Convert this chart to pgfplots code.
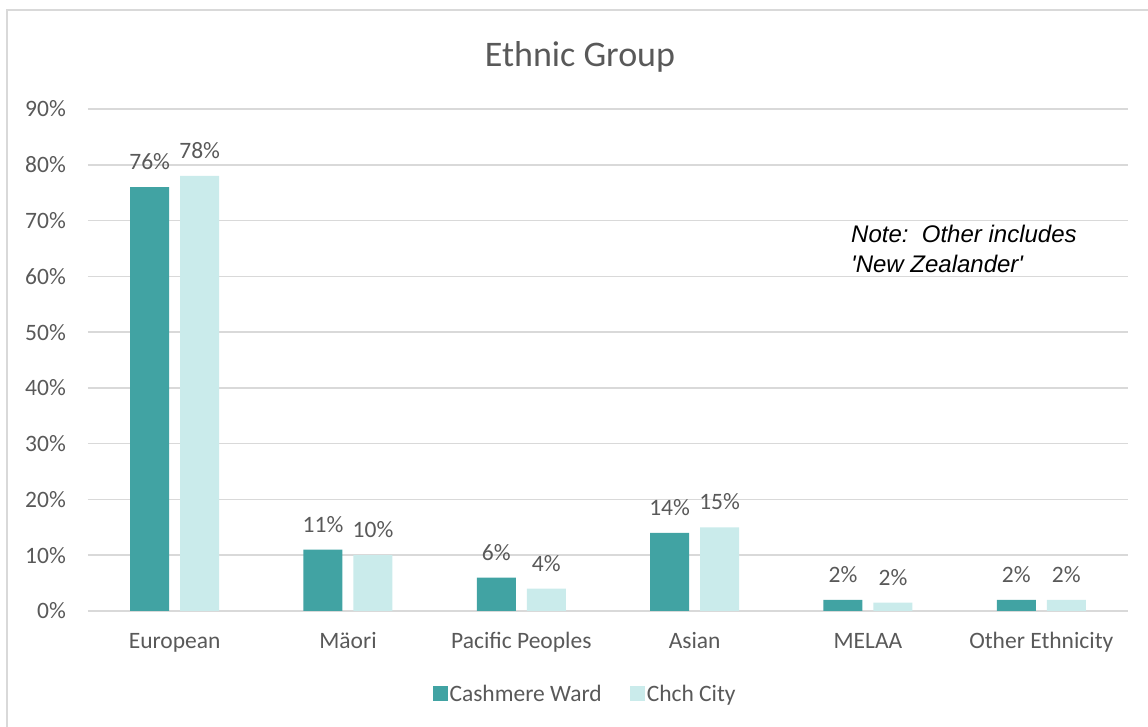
\documentclass[border=0pt]{standalone}
\usepackage{pgfplots}
\pgfplotsset{compat=1.18}
\usepackage{fontspec}
\setmainfont{Carlito}
\newfontfamily\notefont{Liberation Sans}
\definecolor{tealA}{HTML}{41A3A3}
\definecolor{tealB}{HTML}{CAEBEB}
\definecolor{txt}{HTML}{595959}
\definecolor{gridc}{HTML}{D9D9D9}
\begin{document}
\begin{tikzpicture}[x=1pt,y=1pt]
\useasboundingbox (0,0) rectangle (1148,727);
\draw[gridc, line width=1.5pt] (7,-20) -- (7,717) -- (1170,717);
\begin{axis}[
  at={(88pt,116pt)}, anchor=south west,
  scale only axis, width=1040pt, height=502pt,
  xmin=-0.5, xmax=5.5, ymin=0, ymax=90,
  ybar=11pt, bar width=39pt,
  axis line style={draw=none},
  ymajorgrids, grid style={gridc, line width=1.5pt},
  major tick length=0pt,
  ytick={0,10,...,90},
  yticklabel={\pgfmathprintnumber{\tick}\%},
  yticklabel style={anchor=east, inner sep=0pt, xshift=-22pt, font=\fontsize{23.5}{26}\selectfont, text=txt},
  xtick=data,
  xticklabels={European, Mäori, Pacific Peoples, Asian, MELAA, Other Ethnicity},
  xticklabel style={anchor=north, inner sep=0pt, yshift=-20pt, text height=17pt, text depth=5pt, font=\fontsize{23.5}{26}\selectfont, text=txt},
  /pgf/number format/assume math mode=true,
  nodes near coords={\pgfmathprintnumber[fixed,precision=0]{\pgfplotspointmeta}\%},
  every node near coord/.append style={anchor=south, inner sep=0pt, yshift=17pt, font=\fontsize{23.5}{26}\selectfont, text=txt},
  legend image code/.code={\fill[#1] (-4pt,-7pt) rectangle (11pt,8pt);},
  legend style={at={(0.478,-0.165)}, anchor=center, draw=none, fill=none,
    legend columns=2, font=\fontsize{23.5}{26}\selectfont, text=txt,
    /tikz/every even column/.append style={column sep=26pt}},
]
\addplot[fill=tealA, draw=none] coordinates {(0,76) (1,11) (2,6) (3,14) (4,2) (5,2)};
\addlegendentry{Cashmere Ward}
\addplot[fill=tealB, draw=none] coordinates {(0,78) (1,10) (2,4) (3,15) (4,1.5) (5,2)};
\addlegendentry{Chch City}
\end{axis}
\node[anchor=base, inner sep=0pt, text=txt, font=\fontsize{36}{40}\selectfont] at (580,660) {Ethnic Group};
\node[anchor=base west, inner sep=0pt, font=\notefont\itshape\fontsize{24}{26}\selectfont] at (851,484) {Note:\ \ Other includes};
\node[anchor=base west, inner sep=0pt, font=\notefont\itshape\fontsize{24}{26}\selectfont] at (851,454) {'New Zealander'};
\end{tikzpicture}
\end{document}
